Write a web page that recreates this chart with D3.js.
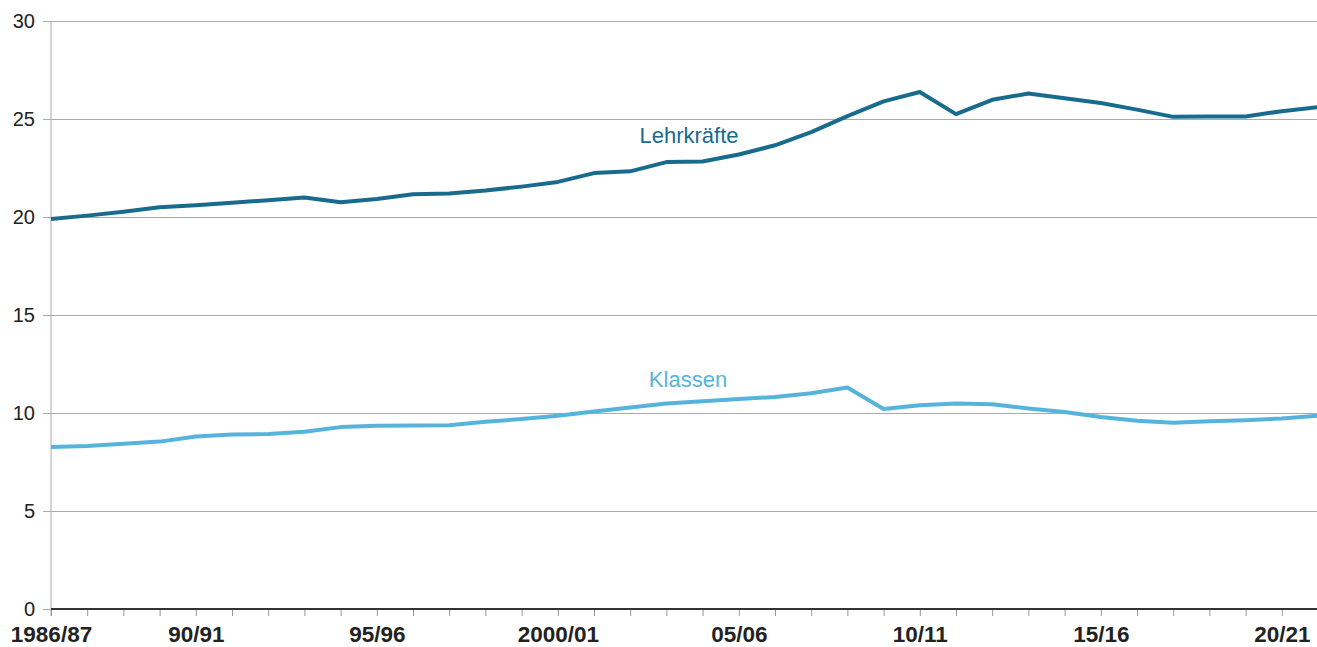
<!DOCTYPE html>
<html lang="de">
<head>
  <meta charset="UTF-8">
  <title>Lehrkräfte und Klassen</title>
  <script src="https://d3js.org/d3.v7.min.js"></script>
  <style>
    body {
      margin: 0;
      background: #fff;
      font-family: "Liberation Sans", Arial, sans-serif;
    }
    svg { display: block; }
    .ytick text { font-size: 20px; fill: #222; }
    .xtick text { font-size: 22.5px; font-weight: bold; fill: #222; }
    .series-label { font-size: 22px; }
  </style>
</head>
<body>
  <svg width="1317" height="647"></svg>

  <script>
    // school years 1986/87 ... 2021/22
    const schoolYears = d3.range(1986, 2022).map(y => y + "/" + String((y + 1) % 100).padStart(2, "0"));
    const lehrkraefte = [19.9, 20.07, 20.27, 20.5, 20.6, 20.73, 20.86, 21.0, 20.75, 20.92,
                         21.16, 21.2, 21.35, 21.55, 21.79, 22.24, 22.33, 22.8, 22.83, 23.19,
                         23.66, 24.33, 25.15, 25.9, 26.38, 25.25, 25.98, 26.3, 26.06, 25.82,
                         25.48, 25.11, 25.13, 25.13, 25.4, 25.6];
    const klassen = [8.27, 8.32, 8.43, 8.54, 8.8, 8.9, 8.93, 9.04, 9.28, 9.35,
                     9.36, 9.38, 9.55, 9.69, 9.86, 10.08, 10.28, 10.48, 10.6, 10.72,
                     10.82, 11.01, 11.3, 10.2, 10.4, 10.48, 10.45, 10.23, 10.05, 9.8,
                     9.6, 9.5, 9.58, 9.63, 9.72, 9.86];
    const xTickLabels = { "1986/87": "1986/87", "1990/91": "90/91", "1995/96": "95/96", "2000/01": "2000/01",
                          "2005/06": "05/06", "2010/11": "10/11", "2015/16": "15/16", "2020/21": "20/21" };
    const yTicks = [0, 5, 10, 15, 20, 25, 30];

    const svg = d3.select("svg");
    const plot = { left: 51, right: 1318, top: 21, bottom: 609 };

    const x = d3.scalePoint().domain(schoolYears).range([plot.left, plot.right]);
    const y = d3.scaleLinear().domain([0, 30]).range([plot.bottom, plot.top]);

    // horizontal grid + y labels
    const gY = svg.append("g")
      .attr("transform", `translate(${plot.left},0)`)
      .call(d3.axisLeft(y).tickValues(yTicks).tickSize(-(1317 - plot.left)).tickPadding(0));
    gY.select(".domain").remove();
    gY.selectAll(".tick").attr("class", "tick ytick");
    gY.selectAll(".tick line").attr("stroke", "#aaa").attr("x1", -8);
    gY.selectAll(".tick text").attr("x", -16).attr("font-family", null).attr("font-size", null);

    // y axis line
    svg.append("line")
      .attr("x1", plot.left).attr("x2", plot.left)
      .attr("y1", plot.top).attr("y2", plot.bottom + 7)
      .attr("stroke", "#aaa");

    // x axis
    const gX = svg.append("g")
      .attr("transform", `translate(0,${plot.bottom})`)
      .call(d3.axisBottom(x).tickSize(7).tickPadding(10)
        .tickFormat(d => xTickLabels[d] || ""));
    gX.select(".domain").remove();
    gX.selectAll(".tick").attr("class", "tick xtick");
    gX.selectAll(".tick line").attr("stroke", "#999");
    gX.selectAll(".tick text").attr("font-family", null).attr("font-size", null).attr("dy", "0.72em");

    svg.append("line")
      .attr("x1", plot.left).attr("x2", 1317)
      .attr("y1", y(0)).attr("y2", y(0))
      .attr("stroke", "#333").attr("stroke-width", 2);

    const line = d3.line()
      .x((d, i) => x(schoolYears[i]))
      .y(d => y(d));

    svg.append("path")
      .datum(klassen)
      .attr("fill", "none")
      .attr("stroke", "#56b4dc")
      .attr("stroke-width", 4)
      .attr("stroke-linejoin", "round")
      .attr("d", line);

    svg.append("path")
      .datum(lehrkraefte)
      .attr("fill", "none")
      .attr("stroke", "#196b8d")
      .attr("stroke-width", 4)
      .attr("stroke-linejoin", "round")
      .attr("d", line);

    // series labels
    svg.append("text")
      .attr("class", "series-label")
      .attr("x", 689).attr("y", y(23.8))
      .attr("text-anchor", "middle")
      .attr("fill", "#196b8d")
      .text("Lehrkräfte");

    svg.append("text")
      .attr("class", "series-label")
      .attr("x", 688).attr("y", y(11.35))
      .attr("text-anchor", "middle")
      .attr("fill", "#56b4dc")
      .text("Klassen");
  </script>
</body>
</html>
